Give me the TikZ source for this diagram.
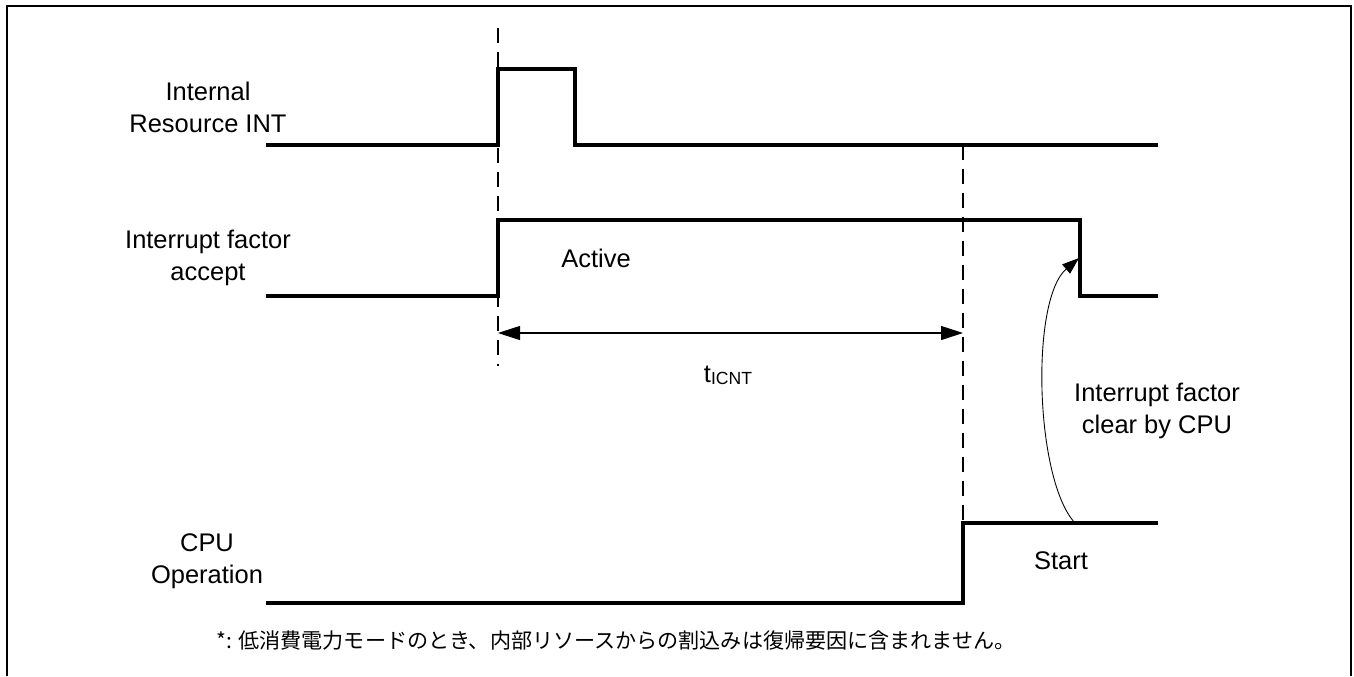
\documentclass[tikz,border=0pt]{standalone}
\usepackage{fontspec}
\setmainfont{Liberation Sans}
\newfontfamily\cjk{Noto Sans CJK JP}
\usetikzlibrary{positioning, arrows.meta, calc}
\tikzset{
  signal/.style={line width=2pt, line join=miter},
  guide/.style={line width=1.1pt, dash pattern=on 0.3cm off 0.18cm},
  frame/.style={line width=1.2pt},
  dimline/.style={line width=0.6pt, {Triangle[length=4.4mm, width=2.8mm]}-{Triangle[length=4.4mm, width=2.8mm]}},
  clrline/.style={line width=0.5pt, -{Triangle[length=3.4mm, width=2.4mm]}},
  signame/.style={align=center, font=\fontsize{14.5}{18.2}\selectfont},
  tag/.style={align=center, font=\fontsize{14.5}{18.2}\selectfont}
}

\begin{document}
\begin{tikzpicture}[x=0.02cm, y=-0.02cm]
  \useasboundingbox (0,0) rectangle (1354,676);

  % Outer frame, open at the bottom
  \draw[frame] (7,676) -- (7,6) -- (1351,6) -- (1351,676);

  % LEVEL 1: Signal names on the left
  \node[signame] (nInt) at (208,107) {Internal\\Resource INT};
  \node[signame] (nAcc) at (208,258) {Interrupt factor\\accept};
  \node[signame] (nCpu) at (207,561) {CPU\\Operation};

  % Waveform corner points
  \coordinate (i0) at (266,145);  \coordinate (i1) at (498,145);
  \coordinate (i2) at (498,69);   \coordinate (i3) at (575,69);
  \coordinate (i4) at (575,145);  \coordinate (i5) at (1158,145);
  \coordinate (a0) at (266,296);  \coordinate (a1) at (498,296);
  \coordinate (a2) at (498,220);  \coordinate (a3) at (1080,220);
  \coordinate (a4) at (1080,296); \coordinate (a5) at (1158,296);
  \coordinate (c0) at (266,603);  \coordinate (c1) at (963,603);
  \coordinate (c2) at (963,523);  \coordinate (c3) at (1158,523);

  % LEVEL 2: Waveforms
  \draw[signal] (i0) -- (i1) -- (i2) -- (i3) -- (i4) -- (i5);
  \draw[signal] (a0) -- (a1) -- (a2) -- (a3) -- (a4) -- (a5);
  \draw[signal] (c0) -- (c1) -- (c2) -- (c3);

  % Timing guides
  \coordinate (g1top) at (498,28);  \coordinate (g1bot) at (498,366);
  \coordinate (g2top) at (963,145); \coordinate (g2bot) at (963,523);
  \draw[guide] (g1top) -- (g1bot);
  \draw[guide] (g2top) -- (g2bot);

  % LEVEL 3: Interval between the guides
  \coordinate (d1) at (498,333);
  \coordinate (d2) at (963,333);
  \draw[dimline] (d1) -- (d2);
  \node[tag] (tIcnt) at (728,375) {t\raisebox{-1pt}{\fontsize{10}{12}\selectfont ICNT}};

  % State labels
  \node[tag] (lActive) at (596,258) {Active};
  \node[tag] (lStart) at (1061,561) {Start};
  \node[tag] (lClear) at (1157,411) {Interrupt factor\\clear by CPU};

  % Clear request from the CPU to the factor
  \coordinate (clrFrom) at (1075,523);
  \coordinate (clrTo) at (1079,258);
  \draw[clrline] (clrFrom) .. controls (1035,480) and (1030,300) .. (clrTo);

  % Footnote
  \node[font=\cjk\fontsize{12}{14}\selectfont] (note) at (616,640)
    {*: 低消費電力モードのとき、内部リソースからの割込みは復帰要因に含まれません。};
\end{tikzpicture}
\end{document}
